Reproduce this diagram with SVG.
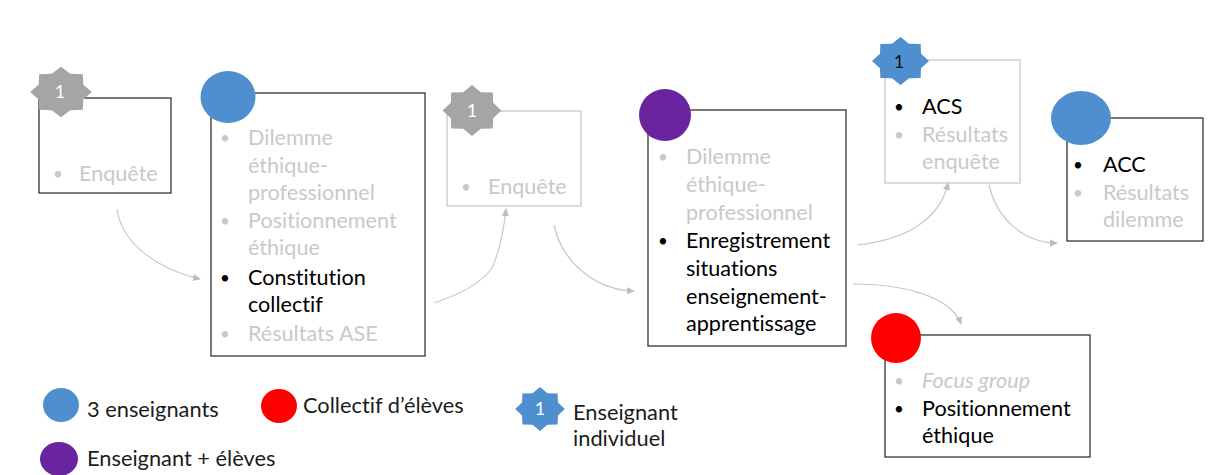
<svg xmlns="http://www.w3.org/2000/svg" xmlns:xlink="http://www.w3.org/1999/xlink" width="1209" height="475" viewBox="0 0 1209 475">
<style>
text{font-family:Lato,"Liberation Sans",sans-serif;font-size:21.6px;fill:#000;font-variant-ligatures:none}
.g{fill:#c9c9c9}
.b{font-size:17px}
.lg{font-size:21.8px;fill:#1c1c1c}
.n{font-size:18px;text-anchor:middle;fill:#fff}
.box{fill:#fff;stroke:#222;stroke-width:1.2}
.gbox{fill:#fff;stroke:#c4c4c4;stroke-width:1.2}
.blue{fill:#4f8fd0}
.edge{fill:none;stroke:#c8c8c8;stroke-width:1.2;marker-end:url(#arr)}
</style>
<defs>
<marker id="arr" markerWidth="9" markerHeight="8" refX="7" refY="4" orient="auto" markerUnits="userSpaceOnUse"><path d="M0,0.5L8,4L0,7.5Z" fill="#bdbdbd"/></marker>
<polygon id="star" points="30,0 21.6,9 21.2,21.2 9,21.6 0,30 -9,21.6 -21.2,21.2 -21.6,9 -30,0 -21.6,-9 -21.2,-21.2 -9,-21.6 0,-30 9,-21.6 21.2,-21.2 21.6,-9"/>
</defs>
<rect width="1209" height="475" fill="#fff"/>
<g id="connectors">
<path class="edge" d="M117,209C122,245 160,270 200,279"/>
<path class="edge" d="M434,303C455,296 480,285 492,268C500,250 504,228 506,209"/>
<path class="edge" d="M554,225C562,262 595,290 634,291"/>
<path class="edge" d="M857,245C905,240 940,220 948,183"/>
<path class="edge" d="M989,185C997,220 1025,243 1057,243"/>
<path class="edge" d="M853,284C900,284 950,295 961,324"/>
</g>
<g id="node-enquete-1">
<rect class="box" x="39" y="98" width="132" height="95"/>
<use xlink:href="#star" href="#star" transform="translate(61 92) scale(1.03 .84)" fill="#a5a5a5"/>
<text class="n" x="60" y="98">1</text>
<text class="g b" x="53" y="180">•</text><text class="g" x="79" y="181">Enquête</text>
</g>
<g id="node-constitution">
<rect class="box" x="211" y="93" width="214" height="263"/>
<ellipse class="blue" cx="228" cy="97" rx="27.5" ry="26"/>
<text class="g b" x="220" y="144">•</text><text class="g" x="248" y="145">Dilemme</text>
<text class="g" x="248" y="173">éthique-</text>
<text class="g" x="248" y="200">professionnel</text>
<text class="g b" x="220" y="227">•</text><text class="g" x="248" y="228">Positionnement</text>
<text class="g" x="248" y="255">éthique</text>
<text class="b" x="220" y="284">•</text><text x="248" y="285">Constitution</text>
<text x="248" y="312">collectif</text>
<text class="g b" x="220" y="340">•</text><text class="g" x="248" y="341">Résultats ASE</text>
</g>
<g id="node-enquete-2">
<rect class="gbox" x="447" y="111" width="134" height="95"/>
<use xlink:href="#star" href="#star" transform="translate(472 110.5) scale(.98 .85)" fill="#a5a5a5"/>
<text class="n" x="472" y="117">1</text>
<text class="g b" x="461" y="193">•</text><text class="g" x="488" y="194">Enquête</text>
</g>
<g id="node-enregistrement">
<rect class="box" x="648" y="110" width="198" height="236"/>
<circle cx="665" cy="115" r="26" fill="#6a24a0"/>
<text class="g b" x="658" y="163">•</text><text class="g" x="686" y="164">Dilemme</text>
<text class="g" x="686" y="192">éthique-</text>
<text class="g" x="686" y="220">professionnel</text>
<text class="b" x="658" y="247">•</text><text x="686" y="248">Enregistrement</text>
<text x="686" y="276">situations</text>
<text x="686" y="304">enseignement-</text>
<text x="686" y="331">apprentissage</text>
</g>
<g id="node-acs">
<rect class="gbox" x="885" y="60" width="135" height="123"/>
<use xlink:href="#star" href="#star" transform="translate(900.5 61) scale(.95 .8)" class="blue"/>
<text class="n" x="899" y="68" style="fill:#111">1</text>
<text class="b" x="894" y="113">•</text><text x="922" y="114">ACS</text>
<text class="g b" x="894" y="141">•</text><text class="g" x="922" y="142">Résultats</text>
<text class="g" x="922" y="169">enquête</text>
</g>
<g id="node-acc">
<rect class="box" x="1067" y="118" width="136" height="123"/>
<ellipse class="blue" cx="1081" cy="118" rx="30" ry="27"/>
<text class="b" x="1073" y="171">•</text><text x="1103" y="172">ACC</text>
<text class="g b" x="1073" y="199">•</text><text class="g" x="1103" y="200">Résultats</text>
<text class="g" x="1103" y="227">dilemme</text>
</g>
<g id="node-focus">
<rect class="box" x="885" y="335" width="205" height="122"/>
<circle cx="896" cy="338" r="25" fill="#fe0000"/>
<text class="g b" x="894" y="387">•</text><text class="g" x="922" y="388" font-style="italic">Focus group</text>
<text class="b" x="894" y="415">•</text><text x="922" y="416">Positionnement</text>
<text x="922" y="443">éthique</text>
</g>
<g id="legend-3-enseignants">
<ellipse class="blue" cx="61" cy="405" rx="18" ry="17"/>
<text class="lg" x="87" y="417">3 enseignants</text>
</g>
<g id="legend-collectif">
<ellipse cx="279" cy="406" rx="18" ry="17" fill="#fe0000"/>
<text class="lg" x="303" y="413">Collectif d’élèves</text>
</g>
<g id="legend-individuel">
<use xlink:href="#star" href="#star" transform="translate(540 409) scale(.83 .73)" class="blue"/>
<text class="n" x="540" y="415">1</text>
<text class="lg" x="573" y="420">Enseignant</text>
<text class="lg" x="573" y="446">individuel</text>
</g>
<g id="legend-enseignant-eleves">
<ellipse cx="59" cy="459" rx="19" ry="17" fill="#6a24a0"/>
<text class="lg" x="87" y="466">Enseignant + élèves</text>
</g>
</svg>
